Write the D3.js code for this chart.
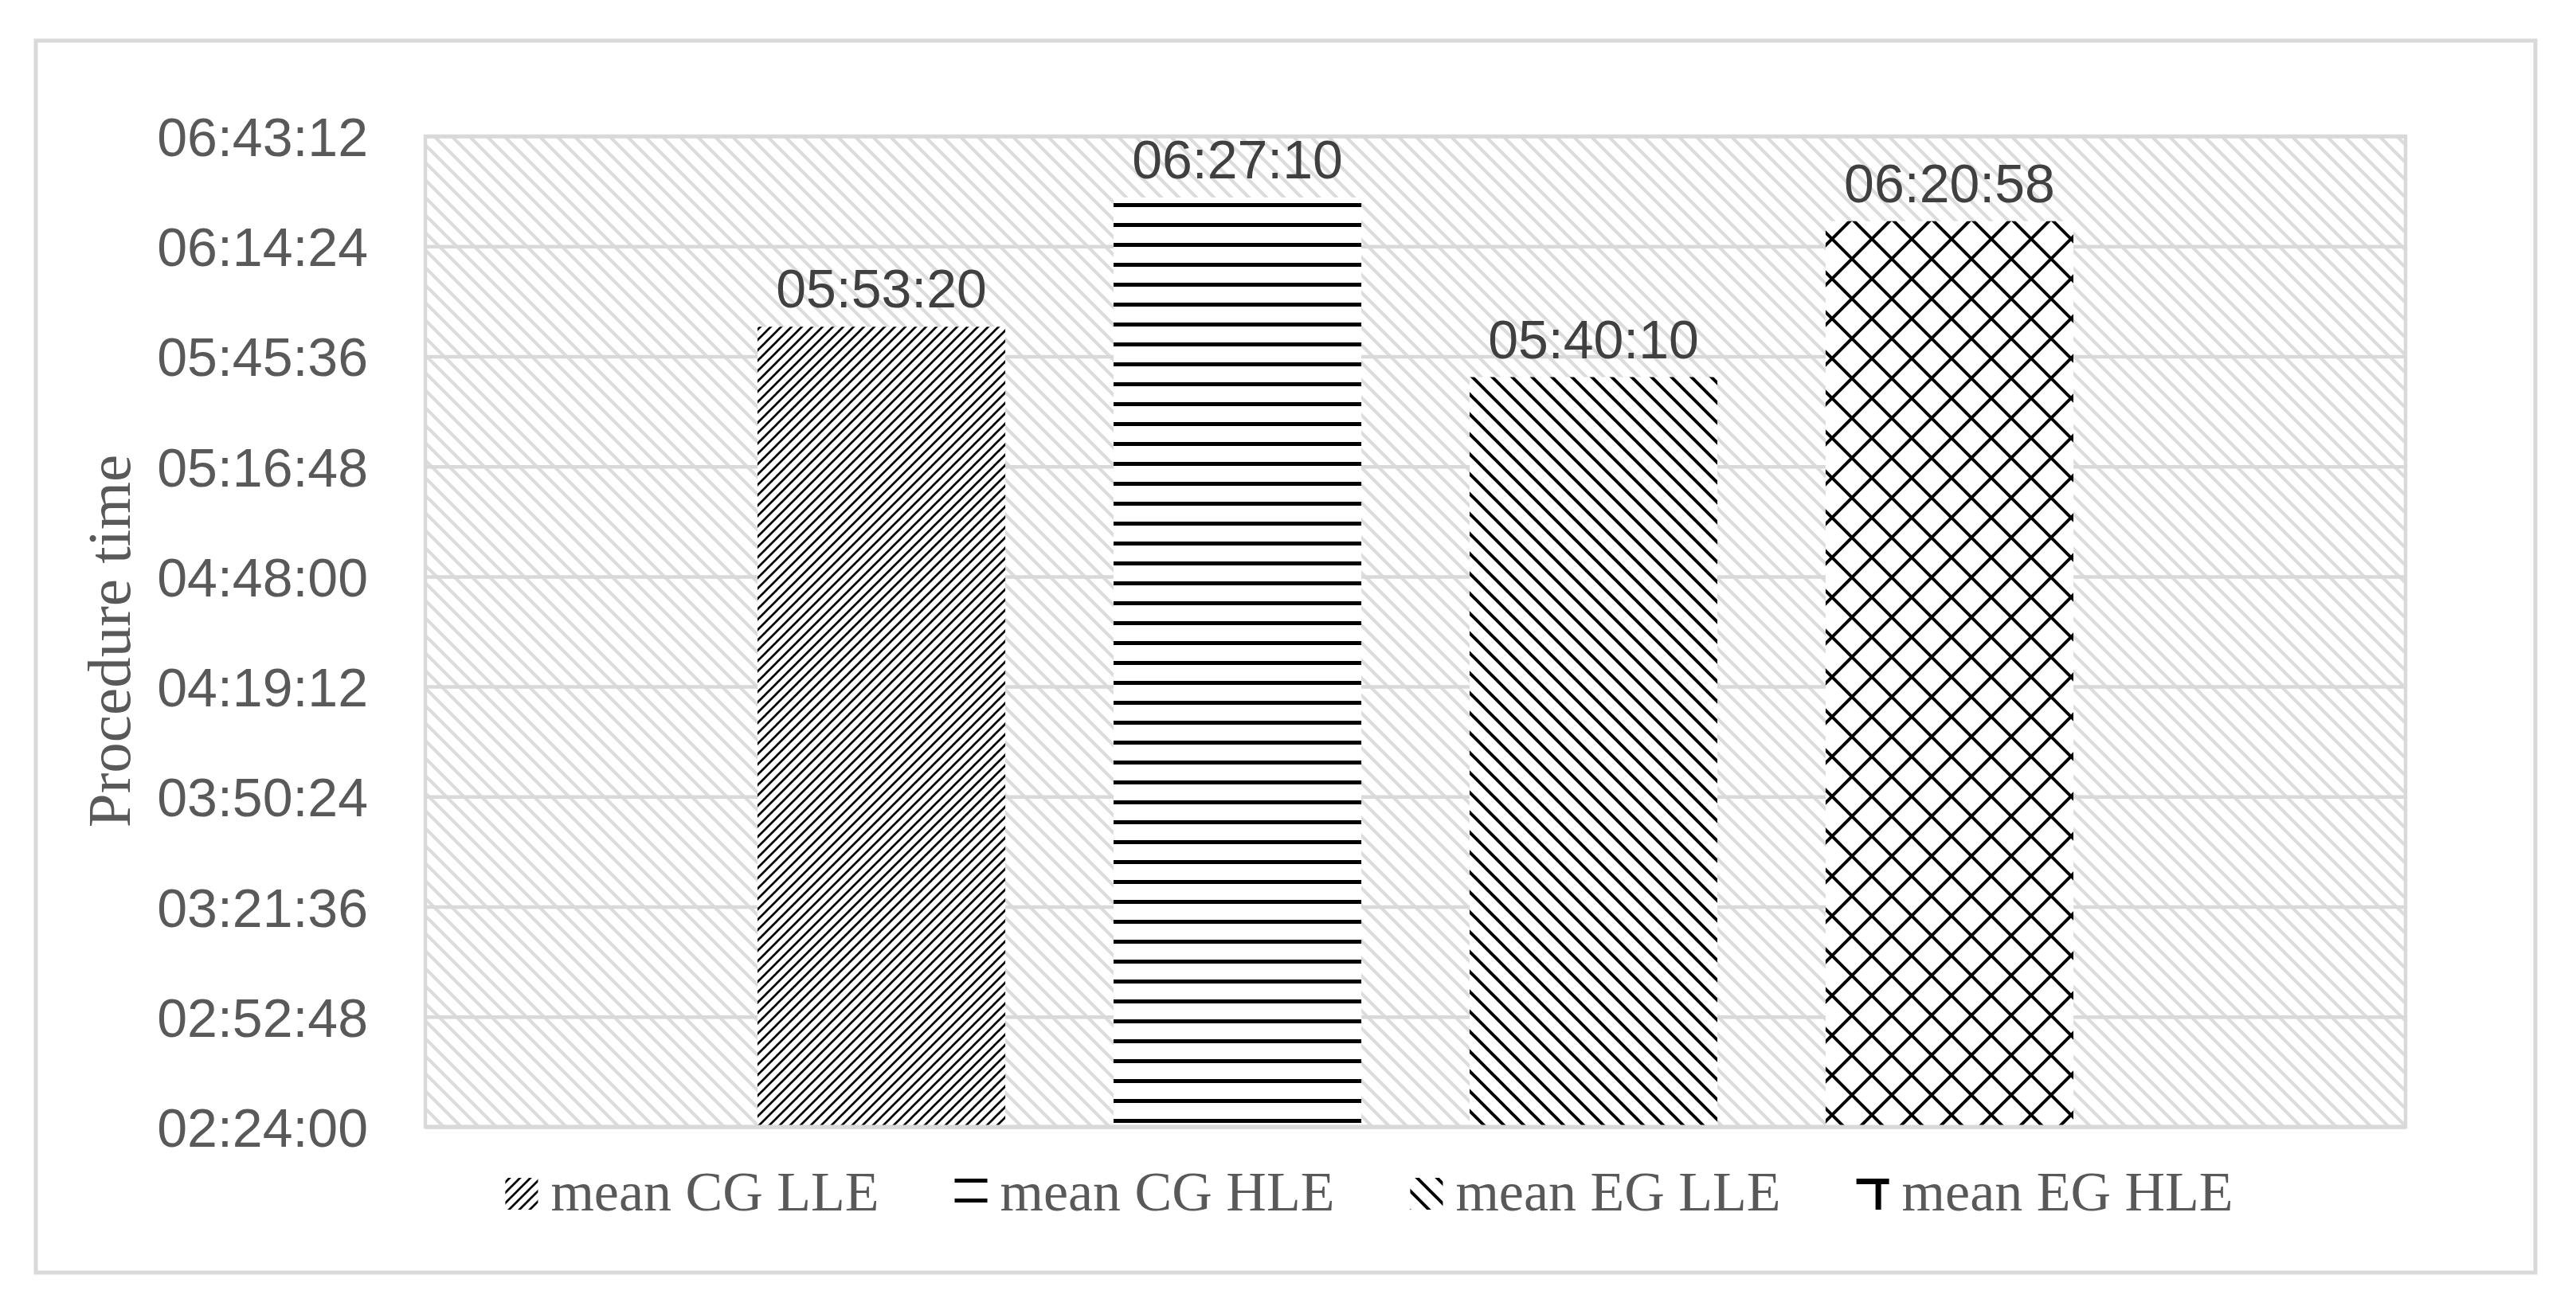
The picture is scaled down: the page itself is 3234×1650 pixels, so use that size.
<!DOCTYPE html>
<html>
<head>
<meta charset="utf-8">
<script src="https://cdn.jsdelivr.net/npm/d3@7"></script>
<style>
  html, body { margin: 0; padding: 0; background: #ffffff; }
  svg { display: block; }
</style>
</head>
<body>
<svg id="chart" width="3234" height="1650"></svg>
<script>
// ---------------- DATA ----------------
const categories = ["Procedure time"];
const seriesNames = ["mean CG LLE", "mean CG HLE", "mean EG LLE", "mean EG HLE"];
const seriesValues = ["05:53:20", "06:27:10", "05:40:10", "06:20:58"];
const yTickLabels = ["02:24:00", "02:52:48", "03:21:36", "03:50:24", "04:19:12",
                     "04:48:00", "05:16:48", "05:45:36", "06:14:24", "06:43:12"];
const yAxisTitle = "Procedure time";

// ---------------- HELPERS ----------------
const toSec = s => { const p = s.split(":").map(Number); return p[0] * 3600 + p[1] * 60 + p[2]; };
const pad = n => String(n).padStart(2, "0");
const fmt = v => `${pad(Math.floor(v / 3600))}:${pad(Math.floor((v % 3600) / 60))}:${pad(Math.round(v % 60))}`;

const tickVals = yTickLabels.map(toSec);
const data = seriesNames.map((name, i) => ({ name, value: toSec(seriesValues[i]), pat: "pat" + i }));

// ---------------- LAYOUT ----------------
const W = 3234, H = 1650;
const plot = { left: 534, right: 3020, top: 171, bottom: 1415 };
const gray = "#d9d9d9";
const svg = d3.select("#chart");
const defs = svg.append("defs");

// Patterns
function diag(id, size, sw, color, dir, bg) {
  const p = defs.append("pattern").attr("id", id).attr("patternUnits", "userSpaceOnUse")
    .attr("width", size).attr("height", size);
  if (bg) p.append("rect").attr("width", size).attr("height", size).attr("fill", bg);
  const s = size;
  const d = dir === "up"
    ? `M${-s / 4},${s / 4}l${s / 2},${-s / 2}M0,${s}l${s},${-s}M${3 * s / 4},${5 * s / 4}l${s / 2},${-s / 2}`
    : `M${-s / 4},${3 * s / 4}l${s / 2},${s / 2}M0,0l${s},${s}M${3 * s / 4},${-s / 4}l${s / 2},${s / 2}`;
  p.append("path").attr("d", d).attr("stroke", color).attr("stroke-width", sw).attr("fill", "none")
    .attr("stroke-linecap", "square");
  return p;
}
diag("bgpat", 22, 4.2, "#dcdcdc", "down", "#ffffff");
diag("pat0", 13, 2.7, "#000000", "up", "#ffffff");
{
  const p = defs.append("pattern").attr("id", "pat1").attr("patternUnits", "userSpaceOnUse")
    .attr("width", 25).attr("height", 25);
  p.append("rect").attr("width", 25).attr("height", 25).attr("fill", "#ffffff");
  p.append("rect").attr("y", 5).attr("width", 25).attr("height", 5).attr("fill", "#000000");
}
diag("pat2", 25, 4, "#000000", "down", "#ffffff");
{
  const s = 50;
  const p = defs.append("pattern").attr("id", "pat3").attr("patternUnits", "userSpaceOnUse")
    .attr("width", s).attr("height", s);
  p.append("rect").attr("width", s).attr("height", s).attr("fill", "#ffffff");
  p.append("path").attr("d", `M0,0L${s},${s}M${s},0L0,${s}M${-s / 2},${s / 2}L0,0M${s},${s}L${s * 1.5},${s / 2}`)
    .attr("stroke", "#000").attr("stroke-width", 4).attr("fill", "none");
  p.append("path").attr("d", `M${-s / 2},${s / 2}L0,${s}L${s / 2},${s * 1.5}M${s / 2},${-s / 2}L${s},0L${s * 1.5},${s / 2}`)
    .attr("stroke", "#000").attr("stroke-width", 4).attr("fill", "none");
}
// legend swatch pattern for the lattice series (Excel shows a small fragment)
{
  const p = defs.append("pattern").attr("id", "pat3legend").attr("patternUnits", "objectBoundingBox")
    .attr("width", 1).attr("height", 1);
  p.append("rect").attr("width", 41).attr("height", 40).attr("fill", "#ffffff");
  p.append("rect").attr("x", 0).attr("y", 1).attr("width", 41).attr("height", 7).attr("fill", "#000");
  p.append("rect").attr("x", 24).attr("y", 1).attr("width", 7).attr("height", 39).attr("fill", "#000");
}

// Scales
const y = d3.scaleLinear().domain([tickVals[0], tickVals[tickVals.length - 1]]).range([plot.bottom, plot.top]);
const x0 = d3.scaleBand().domain(categories).range([plot.left, plot.right]).paddingInner(0).paddingOuter(0.2524);
const x1 = d3.scaleBand().domain(seriesNames).range([0, x0.bandwidth()]).paddingInner(0.304).paddingOuter(0);

// Outer chart border
svg.append("rect").attr("x", 45).attr("y", 51).attr("width", 3183 - 45).attr("height", 1598 - 51)
  .attr("fill", "#ffffff").attr("stroke", gray).attr("stroke-width", 5);

// Plot background
svg.append("rect").attr("x", plot.left).attr("y", plot.top)
  .attr("width", plot.right - plot.left).attr("height", plot.bottom - plot.top)
  .attr("fill", "url(#bgpat)");

// Gridlines via axis
const yAxis = d3.axisLeft(y).tickValues(tickVals).tickSize(-(plot.right - plot.left)).tickFormat(fmt).tickPadding(72);
const gY = svg.append("g").attr("transform", `translate(${plot.left},0)`).call(yAxis);
gY.select(".domain").remove();
gY.selectAll(".tick line").attr("stroke", gray).attr("stroke-width", 4.5);
gY.selectAll(".tick text").attr("fill", "#595959")
  .attr("font-family", "'Liberation Sans', Arial, sans-serif").attr("font-size", 68)
  .attr("dy", "0.36em");

// Plot border
svg.append("rect").attr("x", plot.left).attr("y", plot.top)
  .attr("width", plot.right - plot.left).attr("height", plot.bottom - plot.top)
  .attr("fill", "none").attr("stroke", gray).attr("stroke-width", 4.5);

// Bars
const gBars = svg.append("g");
categories.forEach(cat => {
  gBars.selectAll("rect.bar").data(data).join("rect").attr("class", "bar")
    .attr("x", d => x0(cat) + x1(d.name))
    .attr("y", d => y(d.value))
    .attr("width", x1.bandwidth())
    .attr("height", d => plot.bottom - y(d.value))
    .attr("fill", d => `url(#${d.pat})`);
  gBars.selectAll("text.lbl").data(data).join("text").attr("class", "lbl")
    .attr("x", d => x0(cat) + x1(d.name) + x1.bandwidth() / 2)
    .attr("y", d => y(d.value) - 24)
    .attr("text-anchor", "middle")
    .attr("fill", "#404040")
    .attr("font-family", "'Liberation Sans', Arial, sans-serif").attr("font-size", 68)
    .text(d => fmt(d.value));
});
// bottom axis line
svg.append("line").attr("x1", plot.left).attr("x2", plot.right).attr("y1", plot.bottom).attr("y2", plot.bottom)
  .attr("stroke", gray).attr("stroke-width", 5);

// Y axis title
svg.append("text").attr("transform", `translate(163,805) rotate(-90)`)
  .attr("text-anchor", "middle").attr("fill", "#595959")
  .attr("font-family", "'Liberation Serif', 'Times New Roman', serif").attr("font-size", 77)
  .text(yAxisTitle);

// Legend
const legend = svg.append("g");
const items = legend.selectAll("g").data(data).join("g");
items.append("rect").attr("width", 41).attr("height", 40).attr("y", 1479)
  .attr("fill", (d, i) => i === 3 ? "url(#pat3legend)" : `url(#${d.pat})`);
items.append("text").attr("y", 1520).attr("fill", "#595959")
  .attr("font-family", "'Liberation Serif', 'Times New Roman', serif").attr("font-size", 70)
  .text(d => d.name);
// sequential layout, centered at measured centre
let widths = [];
items.each(function () { widths.push(d3.select(this).select("text").node().getComputedTextLength()); });
const iconW = 41, iconGap = 16, itemGap = 95;
const total = widths.reduce((a, w) => a + iconW + iconGap + w, 0) + itemGap * (widths.length - 1);
let cx = 1719 - total / 2;
items.each(function (d, i) {
  const g = d3.select(this);
  g.select("rect").attr("x", cx);
  g.select("text").attr("x", cx + iconW + iconGap);
  cx += iconW + iconGap + widths[i] + itemGap;
});
</script>
</body>
</html>
